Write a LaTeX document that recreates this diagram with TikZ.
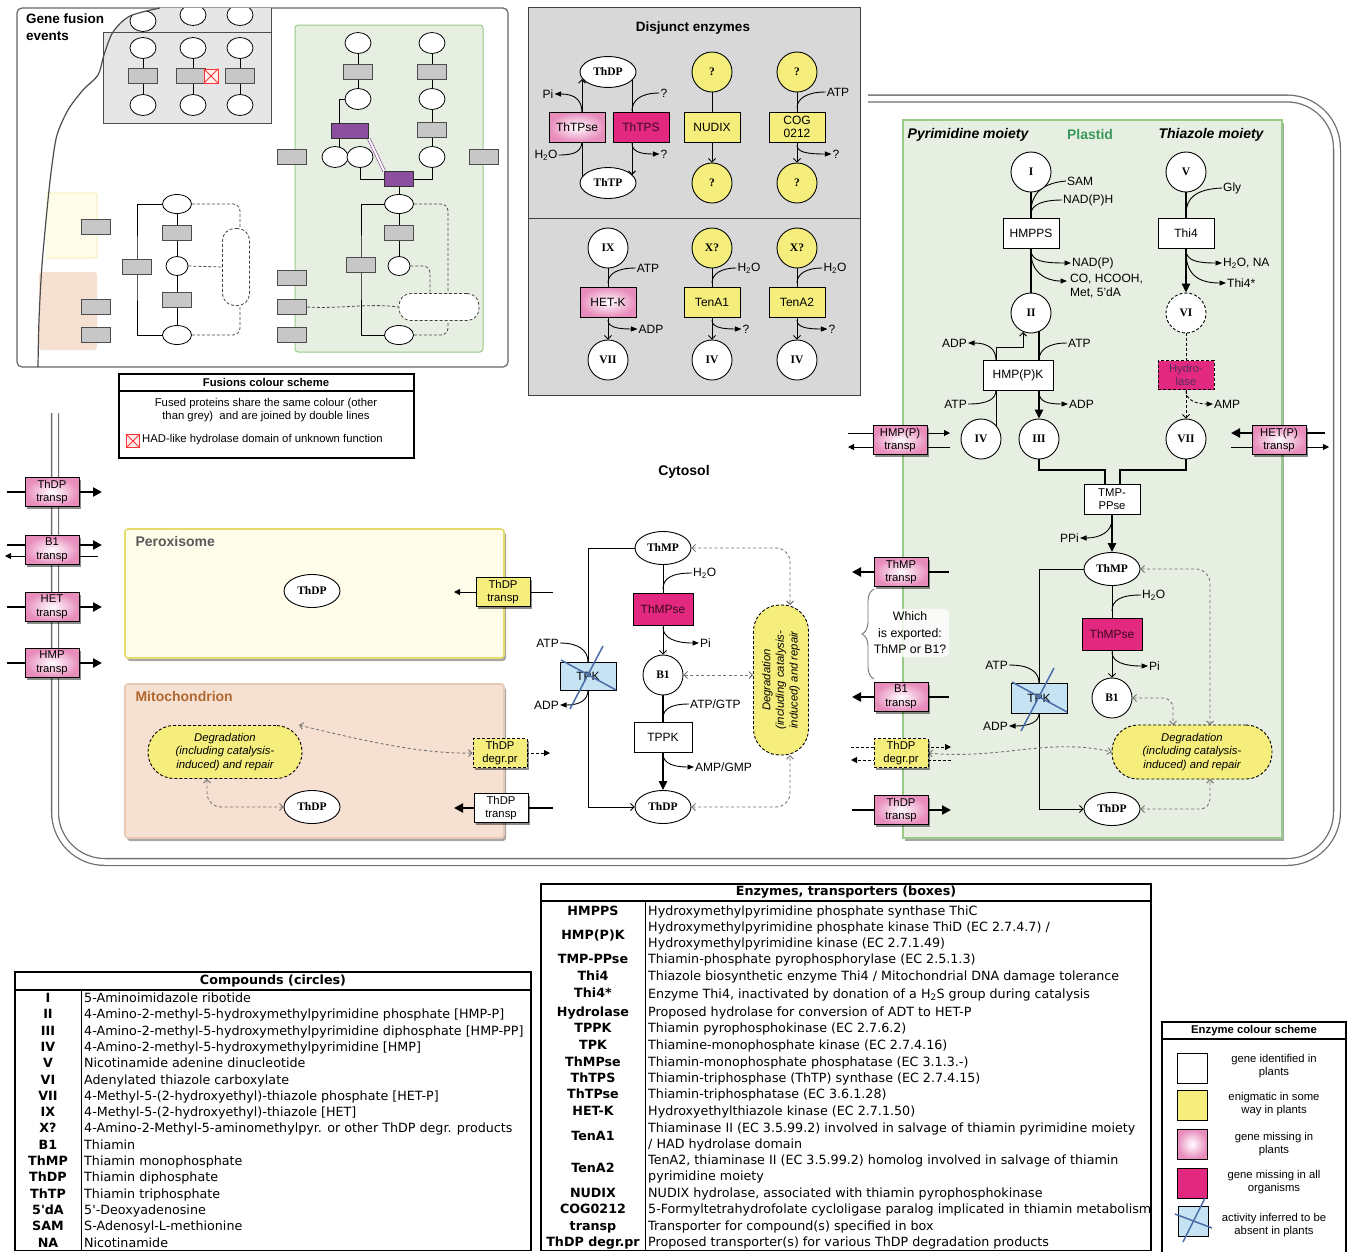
\documentclass[tikz,border=0pt]{standalone}
\usepackage{fontspec}
\setmainfont{Liberation Sans}
\newfontfamily\cmpfam{Liberation Serif}
\newfontfamily\tabfam{DejaVu Sans}
\usetikzlibrary{shapes.geometric,arrows.meta,shadows,calc,decorations.pathreplacing}
\pgfdeclarelayer{back}
\pgfdeclarelayer{bg}
\pgfsetlayers{back,bg,main}
\definecolor{pinkc}{HTML}{E88CBC}
\definecolor{magc}{HTML}{E2287F}
\definecolor{yelc}{HTML}{F5EE7C}
\definecolor{bluec}{HTML}{C6E3F3}
\definecolor{crossc}{HTML}{4A6DAA}
\definecolor{greyp}{HTML}{D8D8D8}
\definecolor{greym}{HTML}{E6E6E6}
\definecolor{plastf}{HTML}{E6EFE1}
\definecolor{plastd}{HTML}{98CB88}
\definecolor{plastt}{HTML}{3A9A5C}
\definecolor{peroxf}{HTML}{FFFDE9}
\definecolor{peroxd}{HTML}{E4DC6C}
\definecolor{mitof}{HTML}{F6E0D2}
\definecolor{mitod}{HTML}{E6C8B3}
\definecolor{mitot}{HTML}{B0682E}
\definecolor{purp}{HTML}{8C4E9E}
\definecolor{memb}{HTML}{707070}
\newcommand\ftLab{\fontsize{12}{13.5}\selectfont}
\newcommand\ftTitle{\bfseries\fontsize{14}{17}\selectfont}
\newcommand\ftCmp{\cmpfam\bfseries\fontsize{11.5}{12}\selectfont}
\newcommand\ftSm{\fontsize{11.3}{13.6}\selectfont}
\newcommand\ftTab{\tabfam\fontsize{12.7}{16.3}\selectfont}
\tikzset{
 lab/.style={font=\ftLab, inner sep=1pt},
 cmp/.style={circle, draw, line width=0.9pt, fill=white, minimum size=40pt, inner sep=0pt, font=\ftCmp},
 cmpe/.style={ellipse, draw, line width=0.9pt, fill=white, minimum width=56pt, minimum height=33pt, inner sep=0pt, font=\ftCmp},
 enz/.style={rectangle, draw, line width=0.9pt, fill=white, minimum width=56pt, minimum height=30pt, inner sep=1pt, font=\ftLab, align=center},
 enzy/.style={enz, fill=yelc},
 enzm/.style={enz, fill=magc, text=black!75!magc},
 enzp/.style={enz, inner color=white, outer color=pinkc},
 enzb/.style={enz, fill=bluec},
 trbase/.style={rectangle, draw, line width=0.9pt, minimum width=54pt, minimum height=29pt, inner sep=0pt, font=\ftSm, align=center, drop shadow={shadow xshift=2pt,shadow yshift=-2.5pt,opacity=0.45,fill=black}},
 trs/.style={trbase, inner color=white, outer color=pinkc},
 trsy/.style={trbase, fill=yelc},
 trsw/.style={trbase, fill=white},
 trsdy/.style={trbase, fill=yelc, dash pattern=on 3pt off 2pt},
 degbox/.style={rectangle, rounded corners=26pt, draw, line width=0.9pt, dash pattern=on 3pt off 2pt, fill=yelc, font=\itshape\ftSm, align=center, minimum width=160pt, minimum height=54pt, inner sep=0pt},
 thn/.style={line width=0.9pt},
 thk/.style={line width=2.4pt},
 sarr/.style={line width=0.9pt, -{Triangle[length=6.5pt,width=5pt]}},
 oarr/.style={line width=0.9pt, -{Straight Barb[length=3.5pt,width=7pt]}},
 karr/.style={line width=2.4pt, -{Triangle[length=9pt,width=8pt]}},
 tarr/.style={line width=2.2pt, -{Triangle[length=9pt,width=9pt]}},
 tnarr/.style={line width=1pt, -{Triangle[length=6pt,width=6pt]}},
 dga/.style={line width=0.9pt, draw=black!55, dash pattern=on 3pt off 2.5pt, {Straight Barb[length=3.5pt,width=7pt]}-{Straight Barb[length=3.5pt,width=7pt]}},
 dsh/.style={dash pattern=on 3pt off 2pt},
 mbox/.style={rectangle, draw=black!70, fill=black!22, line width=0.7pt, minimum width=29pt, minimum height=15pt, inner sep=0pt},
 pbox/.style={mbox, fill=purp, draw=black!80},
 mcirc/.style={ellipse, draw, fill=white, line width=0.8pt, minimum width=26pt, minimum height=21pt, inner sep=0pt},
 mell/.style={mcirc, minimum width=29pt, minimum height=19pt},
 mcs/.style={mcirc, minimum width=22pt, minimum height=19pt},
 mdash/.style={draw=black!70, line width=0.8pt, dash pattern=on 3pt off 2pt},
 mround/.style={rectangle, rounded corners=12pt, draw=black!75, line width=0.8pt, dash pattern=on 3pt off 2pt, fill=white, inner sep=0pt},
 hadbox/.style={rectangle, draw=red!80, fill=red!6, line width=0.8pt, minimum size=14pt, inner sep=0pt},
 tabl/.style={font={\ftTab\bfseries}, inner sep=0pt, anchor=base},
 tabr/.style={font=\ftTab, inner sep=0pt, anchor=base west, align=left},
 sw/.style={rectangle, draw, line width=0.9pt, minimum size=30pt, inner sep=0pt},
}
\newcommand\crossit[1]{\draw[crossc, line width=1.5pt] ($(#1.center)+(15,-30)$) -- ($(#1.center)+(-18,33)$); \draw[crossc, line width=1.5pt] ($(#1.center)+(-27,-16)$) -- ($(#1.center)+(28,14)$);}
\newcommand\trline[5]{\draw[#5] ($(#1.center)+(#3,#2)$) -- ($(#1.center)+(#4,#2)$);}
\begin{document}
\begin{tikzpicture}[x=1pt,y=-1pt]
\useasboundingbox (0,0) rectangle (1347,1251);
\begin{pgfonlayer}{back}
\fill[white] (0,0) rectangle (1347,1251);
% ===== gene fusion panel background
\draw[line width=1.2pt, draw=black!60, fill=white, rounded corners=5pt] (17,8) rectangle (508,367);
\fill[peroxf] (46,193) rectangle (97,258);
\draw[peroxd!60, line width=0.8pt, rounded corners=3pt] (46,193) -- (97,193) -- (97,258) -- (46,258);
\fill[mitof, rounded corners=3pt] (39,272) rectangle (97,350);
\fill[greym] plot[smooth] coordinates {(160,8) (130,16) (113,32)} -- (271,32) -- (271,8) -- cycle;
\fill[greym] (103,32) rectangle (271,123);
\draw[draw=plastd, fill=plastf, line width=1pt, rounded corners=3pt] (295,25) rectangle (483,352);
% ===== disjunct panel
\draw[fill=greyp, draw=black!75, line width=1pt] (528,7) rectangle (860,395);
\draw[black!75, line width=1pt] (528,218) -- (860,218);
% ===== membrane
\draw[line width=1.3pt, draw=memb, double=white, double distance=5.5pt, rounded corners=50pt] (55,413) -- (55,862) -- (1337,862) -- (1337,98.5) -- (868,98.5);
% ===== compartments
\draw[draw=plastd, fill=plastf, line width=1.6pt, drop shadow={shadow xshift=2pt,shadow yshift=-3pt,opacity=0.35,fill=black}] (903,120) rectangle (1282,838);
\draw[draw=peroxd, fill=peroxf, line width=1.6pt, rounded corners=3pt, drop shadow={shadow xshift=2pt,shadow yshift=-3pt,opacity=0.35,fill=black}] (125,529) rectangle (504,658);
\draw[draw=mitod, fill=mitof, line width=1.6pt, rounded corners=3pt, drop shadow={shadow xshift=2pt,shadow yshift=-3pt,opacity=0.35,fill=black}] (125,684) rectangle (504,838);
\end{pgfonlayer}

% ================= GENE FUSION PANEL =================
\node[anchor=north west, font={\bfseries\fontsize{13.5}{17}\selectfont}, align=left, inner sep=0pt] (gTitle) at (26,14) {Gene fusion\\events};
\begin{scope}
\clip plot[smooth] coordinates {(160,8) (130,16) (113,32)} -- (271,32) -- (271,8) -- cycle;
\node[mcirc] (gt0) at (143,21) {};
\node[mcirc] (gt1) at (193,15) {};
\node[mcirc] (gt2) at (240,15) {};
\end{scope}
\draw[black!70, line width=0.9pt] (103,32) -- (271,32);
\draw[black!70, line width=0.9pt] (103,32) -- (103,123) -- (271,123) -- (271,8);
\draw[black!70, line width=1.2pt] plot[smooth] coordinates {(160,8) (130,16) (113,32) (104,55) (98,75) (83,90) (68,110) (57,135) (52,165) (48,200) (42,265) (39,320) (38,367)};
\node[mcirc] (ga1) at (143,48) {};
\node[mcirc] (ga2) at (143,105) {};
\node[mcirc] (gb1) at (193,48) {};
\node[mcirc] (gb2) at (193,105) {};
\node[mcirc] (gc1) at (240,48) {};
\node[mcirc] (gc2) at (240,105) {};
\begin{pgfonlayer}{bg}
\draw[thn] (ga1) -- (ga2); \draw[thn] (gb1) -- (gb2); \draw[thn] (gc1) -- (gc2);
\end{pgfonlayer}
\node[mbox] (gaB) at (143,76) {};
\node[mbox] (gbB) at (191,76) {};
\node[mbox] (gcB) at (240,76) {};
\node[hadbox] (gHAD) at (211,76) {};
\draw[red!80, line width=0.8pt] (gHAD.north west) -- (gHAD.south east) (gHAD.north east) -- (gHAD.south west);
% plastid mini
\node[mcirc] (p1) at (358,43) {};
\node[mbox] (p2) at (358,72) {};
\node[mcirc] (p3) at (358,99) {};
\node[mcirc] (p4) at (432,43) {};
\node[mbox] (p5) at (432,72) {};
\node[mcirc] (p6) at (432,99) {};
\node[mbox] (p7) at (432,130) {};
\node[mcirc] (p8) at (432,157) {};
\node[pbox, minimum width=37pt] (p9) at (350,131) {};
\node[mcirc] (p10) at (335,157) {};
\node[mcirc] (p11) at (360,157) {};
\node[pbox] (p12) at (399,179) {};
\node[mell] (p13) at (399,204) {};
\node[mbox] (p14) at (399,233) {};
\node[mcs] (p15) at (399,266) {};
\node[mell] (p16) at (399,335) {};
\node[mbox] (p17) at (361,265) {};
\node[mround, minimum width=80pt, minimum height=27pt] (p18) at (439,307) {};
\node[mbox] (gx1) at (292,157) {};
\node[mbox] (gx2) at (484,157) {};
\node[mbox] (gx3) at (292,278) {};
\node[mbox] (gx4) at (292,307) {};
\node[mbox] (gx5) at (292,335) {};
\node[mbox] (gx6) at (96,227) {};
\node[mbox] (gx7) at (96,307) {};
\node[mbox] (gx8) at (96,335) {};
% cytosol mini
\node[mell] (c1) at (177,204) {};
\node[mbox] (c2) at (177,233) {};
\node[mcs] (c3) at (177,266) {};
\node[mbox] (c4) at (177,300) {};
\node[mell] (c5) at (177,335) {};
\node[mbox] (c6) at (137,267) {};
\node[mround, minimum width=27pt, minimum height=77pt] (c7) at (236,267) {};
\begin{pgfonlayer}{bg}
\draw[thn] (p1.center) -- (p3.center);
\draw[thn] (p4.center) -- (p8.center);
\draw[thn] (p3.west) -| (339,157);
\draw[thn] (p11.center) |- (p12.center);
\draw[thn] (p8.center) |- (p12.center);
\draw[thn] (p12.center) -- (p15.center);
\draw[thn] (p13.center) -| (p17.center) |- (p16.center);
\draw[mdash, rounded corners=7pt] (p13.east) -| (448,293.5);
\draw[mdash, rounded corners=7pt] (p15.east) -| (430,293.5);
\draw[mdash, rounded corners=7pt] (p16.east) -| (448,320.5);
\draw[mdash] (gx4.east) .. controls (340,309) and (370,303) .. (p18.west);
\draw[thn] (c1.center) -- (c5.center);
\draw[thn] (c1.center) -| (c6.center) |- (c5.center);
\draw[mdash, rounded corners=7pt] (c1.east) -| (240,228.5);
\draw[mdash] (c3.east) -- (c7.west);
\draw[mdash, rounded corners=7pt] (c5.east) -| (240,305.5);
\end{pgfonlayer}
\draw[purp, line width=0.7pt, double=white, double distance=2pt] (p9.south east) -- (p12.north west);

% ================= FUSIONS LEGEND =================
\draw[line width=1.2pt] (119,374) rectangle (414,458);
\draw[line width=1.2pt] (119,391) -- (414,391);
\node[font={\bfseries\fontsize{11.3}{13}\selectfont}] (fTitle) at (266,382) {Fusions colour scheme};
\node[font=\ftSm, align=center] (fText) at (266,410) {Fused proteins share the same colour (other\\than grey)\ \ and are joined by double lines};
\node[hadbox, minimum size=13pt] (fHAD) at (133,441) {};
\draw[red!80, line width=0.8pt] (fHAD.north west) -- (fHAD.south east) (fHAD.north east) -- (fHAD.south west);
\node[font=\ftSm, anchor=west, inner sep=0pt] (fHADt) at (142,440) {HAD-like hydrolase domain of unknown function};

% ================= DISJUNCT ENZYMES =================
\node[font={\bfseries\fontsize{13.5}{16}\selectfont}] (dTitle) at (693,28) {Disjunct enzymes};
\node[cmpe, minimum height=31pt] (dThDP) at (608,72) {ThDP};
\node[cmpe, minimum height=31pt] (dThTP) at (608,183) {ThTP};
\node[enzp] (dThTPse) at (577,127) {ThTPse};
\node[enzm] (dThTPS) at (641,127) {ThTPS};
\node[lab] (dPi) at (548,94) {Pi};
\node[lab] (dH2O) at (546,155) {H\textsubscript{2}O};
\node[lab] (dQ1) at (664,93) {?};
\node[lab] (dQ2) at (664,154) {?};
\begin{pgfonlayer}{bg}
\draw[oarr] (582,177) -- (582,79);
\draw[oarr] (632,80) -- (632,175);
\draw[sarr] (582,113) .. controls (582,100) and (575,94) .. (dPi.east);
\draw[thn] (dH2O.east) .. controls (576,155) and (582,151) .. (582,140);
\draw[thn] (dQ1.west) .. controls (641,93) and (632,100) .. (632,111);
\draw[sarr] (632,143) .. controls (632,152) and (641,154) .. (dQ2.west);
\end{pgfonlayer}
\node[cmp, fill=yelc] (dNq1) at (712,72) {?};
\node[enzy] (dNUDIX) at (712,127) {NUDIX};
\node[cmp, fill=yelc] (dNq2) at (712,183) {?};
\draw[thn] (dNq1) -- (dNUDIX);
\draw[oarr] (dNUDIX) -- (dNq2);
\node[cmp, fill=yelc] (dCq1) at (797,72) {?};
\node[enzy] (dCOG) at (797,127) {COG\\0212};
\node[cmp, fill=yelc] (dCq2) at (797,183) {?};
\node[lab] (dCATP) at (838,92) {ATP};
\node[lab] (dCq3) at (836,154) {?};
\draw[thn] (dCq1) -- (dCOG);
\draw[oarr] (dCOG) -- (dCq2);
\draw[thn] (dCATP.west) .. controls (806,92) and (797,99) .. (797,108);
\draw[sarr] (797,145) .. controls (797,152) and (806,154) .. (dCq3.west);
% row 2
\node[cmp] (dIX) at (608,248) {IX};
\node[enzp] (dHETK) at (608,302) {HET-K};
\node[cmp] (dVII) at (608,360) {VII};
\node[lab] (dATP2) at (648,268) {ATP};
\node[lab] (dADP2) at (651,329) {ADP};
\draw[thn] (dIX) -- (dHETK);
\draw[oarr] (dHETK) -- (dVII);
\draw[thn] (dATP2.west) .. controls (617,268) and (608,274) .. (608,283);
\draw[sarr] (608,320) .. controls (608,327) and (617,329) .. (dADP2.west);
\node[cmp, fill=yelc] (dX1) at (712,248) {X?};
\node[enzy] (dTenA1) at (712,302) {TenA1};
\node[cmp] (dIV1) at (712,360) {IV};
\node[lab] (dH2Ob) at (749,268) {H\textsubscript{2}O};
\node[lab] (dQ4) at (746,329) {?};
\draw[thn] (dX1) -- (dTenA1);
\draw[oarr] (dTenA1) -- (dIV1);
\draw[thn] (dH2Ob.west) .. controls (721,268) and (712,274) .. (712,283);
\draw[sarr] (712,320) .. controls (712,327) and (721,329) .. (dQ4.west);
\node[cmp, fill=yelc] (dX2) at (797,248) {X?};
\node[enzy] (dTenA2) at (797,302) {TenA2};
\node[cmp] (dIV2) at (797,360) {IV};
\node[lab] (dH2Oc) at (835,268) {H\textsubscript{2}O};
\node[lab] (dQ5) at (832,329) {?};
\draw[thn] (dX2) -- (dTenA2);
\draw[oarr] (dTenA2) -- (dIV2);
\draw[thn] (dH2Oc.west) .. controls (806,268) and (797,274) .. (797,283);
\draw[sarr] (797,320) .. controls (797,327) and (806,329) .. (dQ5.west);

% ================= PLASTID =================
\node[font={\bfseries\itshape\fontsize{14}{16}\selectfont}] (pPyr) at (968,135) {Pyrimidine moiety};
\node[font={\bfseries\fontsize{14}{16}\selectfont}, text=plastt] (pPlast) at (1090,134) {Plastid};
\node[font={\bfseries\itshape\fontsize{14}{16}\selectfont}] (pThz) at (1211,135) {Thiazole moiety};
\node[cmp] (pI) at (1031,172) {I};
\node[lab, anchor=west] (pSAM) at (1066,181) {SAM};
\node[lab, anchor=west] (pNADPH) at (1062,200) {NAD(P)H};
\node[enz] (pHMPPS) at (1031,233) {HMPPS};
\node[lab, anchor=west] (pNADP) at (1071,263) {NAD(P)};
\node[lab, anchor=north west, align=left] (pCO) at (1069,273) {CO, HCOOH,\\Met, 5'dA};
\node[cmp] (pII) at (1031,313) {II};
\node[enz, minimum width=70pt] (pHMPK) at (1018,375) {HMP(P)K};
\node[lab, anchor=east] (pADPl) at (968,343) {ADP};
\node[lab, anchor=west] (pATPr) at (1067,343) {ATP};
\node[lab, anchor=east] (pATPl) at (968,404) {ATP};
\node[lab, anchor=west] (pADPr) at (1068,404) {ADP};
\node[cmp] (pIV) at (981,439) {IV};
\node[cmp] (pIII) at (1039,439) {III};
\node[cmp] (pV) at (1186,172) {V};
\node[lab, anchor=west] (pGly) at (1222,188) {Gly};
\node[enz] (pThi4) at (1186,233) {Thi4};
\node[lab, anchor=west] (pH2ONA) at (1222,263) {H\textsubscript{2}O, NA};
\node[lab, anchor=west] (pThi4s) at (1226,283) {Thi4*};
\node[cmp, dash pattern=on 3pt off 2pt] (pVI) at (1186,313) {VI};
\node[enzm, dash pattern=on 3pt off 2pt, minimum height=29pt, font=\ftSm, text=purp!60!black] (pHyd) at (1186,375) {Hydro-\\lase};
\node[lab, anchor=west] (pAMP) at (1213,404) {AMP};
\node[cmp] (pVII) at (1186,439) {VII};
\node[enz, font=\ftSm] (pTMP) at (1112,499) {TMP-\\PPse};
\node[lab, anchor=east] (pPPi) at (1080,538) {PPi};
\node[cmpe] (pThMP) at (1112,569) {ThMP};
\node[lab, anchor=west] (pH2O) at (1141,595) {H\textsubscript{2}O};
\node[enzm, minimum width=60pt, minimum height=32pt] (pThMPse) at (1112,634) {ThMPse};
\node[lab, anchor=west] (pPi) at (1148,666) {Pi};
\node[cmp] (pB1) at (1112,698) {B1};
\node[enzb] (pTPK) at (1039,698) {TPK};
\node[lab, anchor=east] (pATP) at (1009,665) {ATP};
\node[lab, anchor=east] (pADP) at (1009,726) {ADP};
\node[cmpe] (pThDP) at (1112,809) {ThDP};
\node[degbox] (pDeg) at (1192,752) {Degradation\\(including catalysis-\\induced) and repair};
\node[trs] (pTrHMP) at (900,440) {HMP(P)\\transp};
\node[trs] (pTrHET) at (1279,440) {HET(P)\\transp};
\node[trs] (pTrThMP) at (901,572) {ThMP\\transp};
\node[trs] (pTrB1) at (901,697) {B1\\transp};
\node[trsdy] (pTrDg) at (901,753) {ThDP\\degr.pr};
\node[trs] (pTrThDP) at (901,810) {ThDP\\transp};
\node[font={\fontsize{12.3}{16.5}\selectfont}, align=center, fill=white, fill opacity=0.8, text opacity=1, rounded corners=6pt, inner sep=3pt] (pWhich) at (910,633) {Which\\is exported:\\ThMP or B1?};
\begin{pgfonlayer}{bg}
\draw[thk] (pI.south) -- (pII.north);
\draw[thn] (pSAM.west) .. controls (1042,183) and (1031,194) .. (1031,212);
\draw[thn] (pNADPH.west) .. controls (1042,200) and (1031,205) .. (1031,214);
\draw[sarr] (1031,250) .. controls (1031,261) and (1043,263) .. (pNADP.west);
\draw[sarr] (1031,252) .. controls (1031,272) and (1045,281) .. ($(pCO.north west)+(-2,8)$);
\draw[karr] (1039,331) -- (pIII.north);
\draw[thn] (pATPr.west) .. controls (1048,343) and (1039,350) .. (1039,360);
\draw[sarr] (1039,392) .. controls (1039,402) and (1048,404) .. (pADPr.west);
\draw[oarr] (996,426) -- (996,347) -- (1023,347) -- (1023,332);
\draw[sarr] (996,360) .. controls (996,349) and (988,343) .. (pADPl.east);
\draw[thn] (pATPl.east) .. controls (988,404) and (996,399) .. (996,390);
\draw[thk] (pV.south) -- (pThi4.north);
\draw[karr] (pThi4.south) -- (pVI.north);
\draw[thn] (pGly.west) .. controls (1196,189) and (1186,198) .. (1186,214);
\draw[sarr] (1186,250) .. controls (1186,261) and (1198,263) .. (pH2ONA.west);
\draw[sarr] (1186,252) .. controls (1186,276) and (1200,283) .. (pThi4s.west);
\draw[thn, dsh] (pVI.south) -- (pHyd.north);
\draw[oarr, dsh] (pHyd.south) -- (pVII.north);
\draw[sarr, dsh] (1186,391) .. controls (1186,400) and (1196,404) .. (pAMP.west);
\draw[thk] (pIII.south) |- (1105,470) -- (1105,484);
\draw[thk] (pVII.south) |- (1120,470) -- (1120,484);
\draw[karr] (pTMP.south) -- (pThMP.north);
\draw[sarr] (1112,519) .. controls (1112,532) and (1100,538) .. (pPPi.east);
\draw[thn] (pThMP.south) -- (pThMPse.north);
\draw[thn] (pH2O.west) .. controls (1121,595) and (1112,600) .. (1112,611);
\draw[sarr] (1112,652) .. controls (1112,662) and (1124,666) .. (pPi.west);
\draw[oarr] (pThMPse.south) -- (pB1.north);
\draw[oarr] (pThMP.west) -| (1039,809) -- (pThDP.west);
\draw[thn] (pATP.east) .. controls (1030,665) and (1039,672) .. (1039,683);
\draw[sarr] (1039,713) .. controls (1039,722) and (1030,726) .. (pADP.east);
\draw[dga, rounded corners=14pt] (pThMP.east) -- (1210,569) -- (1210,725);
\draw[dga, rounded corners=10pt] (pB1.east) -- (1173,698) -- (1173,725);
\draw[dga, rounded corners=10pt] (pThDP.east) -- (1210,809) -- (1210,779);
\draw[dga] (pTrDg.east) .. controls (1000,760) and (1050,737) .. (pDeg.west);
% transporter lines
\trline{pTrHMP}{-7}{-52}{50}{tnarr}
\trline{pTrHMP}{7}{50}{-52}{tnarr}
\trline{pTrHET}{-7}{46}{-48}{tarr}
\trline{pTrHET}{7}{-48}{50}{tnarr}
\trline{pTrThMP}{0}{48}{-49}{tarr}
\trline{pTrB1}{0}{48}{-49}{tarr}
\trline{pTrDg}{-6}{-50}{50}{tnarr,dsh}
\trline{pTrDg}{7}{50}{-50}{tnarr,dsh}
\trline{pTrThDP}{0}{-49}{50}{tarr}
\end{pgfonlayer}
\crossit{pTPK}
\draw[black!55, line width=0.9pt, decorate, decoration={brace, amplitude=12pt}] (874,679) -- (874,589);

% ================= CYTOSOL =================
\node[font={\bfseries\fontsize{14}{16}\selectfont}] (cTitle) at (684,472) {Cytosol};
\node[cmpe] (cThMP) at (663,548) {ThMP};
\node[lab, anchor=west] (cH2O) at (692,573) {H\textsubscript{2}O};
\node[enzm, minimum width=60pt, minimum height=32pt] (cThMPse) at (663,609) {ThMPse};
\node[lab, anchor=west] (cPi) at (699,643) {Pi};
\node[cmp] (cB1) at (663,675) {B1};
\node[lab, anchor=west] (cATPGTP) at (689,704) {ATP/GTP};
\node[enz, minimum width=58pt] (cTPPK) at (663,737) {TPPK};
\node[lab, anchor=west] (cAMP) at (694,767) {AMP/GMP};
\node[cmpe] (cThDP) at (663,807) {ThDP};
\node[enzb, minimum height=28pt] (cTPK) at (588,676) {TPK};
\node[lab, anchor=east] (cATP) at (560,643) {ATP};
\node[lab, anchor=east] (cADP) at (560,705) {ADP};
\node[degbox, rotate=90, minimum width=150pt, minimum height=55pt] (cDeg) at (781,680) {Degradation\\(including catalysis-\\induced) and repair};
\begin{pgfonlayer}{bg}
\draw[thn] (cThMP.south) -- (cThMPse.north);
\draw[thn] (cH2O.west) .. controls (672,573) and (663,578) .. (663,589);
\draw[sarr] (663,627) .. controls (663,638) and (675,643) .. (cPi.west);
\draw[oarr] (cThMPse.south) -- (cB1.north);
\draw[thk] (cB1.south) -- (cTPPK.north);
\draw[thn] (cATPGTP.west) .. controls (671,704) and (663,709) .. (663,718);
\draw[karr] (cTPPK.south) -- (cThDP.north);
\draw[sarr] (663,754) .. controls (663,764) and (675,767) .. (cAMP.west);
\draw[oarr] (cThMP.west) -| (588,807) -- (cThDP.west);
\draw[thn] (cATP.east) .. controls (578,643) and (588,650) .. (588,662);
\draw[sarr] (588,690) .. controls (588,700) and (580,705) .. (cADP.east);
\draw[dga, rounded corners=14pt] (cThMP.east) -- (790,548) -- (790,605);
\draw[dga] (cB1.east) -- (753,675);
\draw[dga, rounded corners=14pt] (cThDP.east) -- (790,807) -- (790,755);
\end{pgfonlayer}
\crossit{cTPK}

% ================= PEROXISOME / MITOCHONDRION =================
\node[font={\bfseries\fontsize{14}{16}\selectfont}, text=black!65, anchor=west] (xTitle) at (132,541) {Peroxisome};
\node[cmpe] (xThDP) at (312,591) {ThDP};
\node[trsy] (xTr) at (503,592) {ThDP\\transp};
\node[font={\bfseries\fontsize{14}{16}\selectfont}, text=mitot, anchor=west] (mTitle) at (132,696) {Mitochondrion};
\node[degbox, minimum width=154pt, minimum height=53pt] (mDeg) at (225,752) {Degradation\\(including catalysis-\\induced) and repair};
\node[cmpe] (mThDP) at (312,807) {ThDP};
\node[trsdy] (mTrDg) at (500,753) {ThDP\\degr.pr};
\node[trsw] (mTrT) at (501,808) {ThDP\\transp};
\begin{pgfonlayer}{bg}
\trline{xTr}{0}{50}{-49}{tnarr}
\trline{mTrDg}{0}{26}{50}{tnarr,dsh}
\trline{mTrT}{0}{52}{-47}{tarr}
\draw[dga] (mDeg.20) .. controls (360,740) and (420,754) .. (mTrDg.west);
\draw[dga, rounded corners=14pt] ($(mDeg.south)+(-18,0)$) -- ($(mDeg.south)+(-18,28)$) -- (mThDP.west);
\end{pgfonlayer}

% ================= MEMBRANE TRANSPORTERS (left) =================
\node[trs] (lTrThDP) at (52,492) {ThDP\\transp};
\node[trs] (lTrB1) at (52,550) {B1\\transp};
\node[trs] (lTrHET) at (52,607) {HET\\transp};
\node[trs] (lTrHMP) at (52,663) {HMP\\transp};
\begin{pgfonlayer}{bg}
\trline{lTrThDP}{0}{-45}{50}{tarr}
\trline{lTrB1}{-5}{-45}{50}{tarr}
\trline{lTrB1}{6}{46}{-47}{tnarr}
\trline{lTrHET}{0}{-45}{50}{tarr}
\trline{lTrHMP}{0}{-45}{50}{tarr}
\end{pgfonlayer}

% ================= COMPOUNDS TABLE =================
\draw[line width=1.2pt] (15,972) rectangle (531,1250.5);
\node[font={\ftTab\bfseries}] (cmpH) at (273,981) {Compounds (circles)};
\draw[line width=1.8pt] (15,990) -- (531,990);
\draw[line width=0.9pt] (81,990) -- (81,1251);
\node[tabl] (t1a) at (48,1002.5) {I};
\node[tabr] (t1b) at (84,1002.5) {5-Aminoimidazole ribotide};
\node[tabl] (t2a) at (48,1018.8) {II};
\node[tabr] (t2b) at (84,1018.8) {4-Amino-2-methyl-5-hydroxymethylpyrimidine phosphate [HMP-P]};
\node[tabl] (t3a) at (48,1035.1) {III};
\node[tabr] (t3b) at (84,1035.1) {4-Amino-2-methyl-5-hydroxymethylpyrimidine diphosphate [HMP-PP]};
\node[tabl] (t4a) at (48,1051.4) {IV};
\node[tabr] (t4b) at (84,1051.4) {4-Amino-2-methyl-5-hydroxymethylpyrimidine [HMP]};
\node[tabl] (t5a) at (48,1067.7) {V};
\node[tabr] (t5b) at (84,1067.7) {Nicotinamide adenine dinucleotide};
\node[tabl] (t6a) at (48,1084) {VI};
\node[tabr] (t6b) at (84,1084) {Adenylated thiazole carboxylate};
\node[tabl] (t7a) at (48,1100.3) {VII};
\node[tabr] (t7b) at (84,1100.3) {4-Methyl-5-(2-hydroxyethyl)-thiazole phosphate [HET-P]};
\node[tabl] (t8a) at (48,1116.6) {IX};
\node[tabr] (t8b) at (84,1116.6) {4-Methyl-5-(2-hydroxyethyl)-thiazole [HET]};
\node[tabl] (t9a) at (48,1132.9) {X?};
\node[tabr] (t9b) at (84,1132.9) {4-Amino-2-Methyl-5-aminomethylpyr. or other ThDP degr. products};
\node[tabl] (t10a) at (48,1149.2) {B1};
\node[tabr] (t10b) at (84,1149.2) {Thiamin};
\node[tabl] (t11a) at (48,1165.5) {ThMP};
\node[tabr] (t11b) at (84,1165.5) {Thiamin monophosphate};
\node[tabl] (t12a) at (48,1181.8) {ThDP};
\node[tabr] (t12b) at (84,1181.8) {Thiamin diphosphate};
\node[tabl] (t13a) at (48,1198.1) {ThTP};
\node[tabr] (t13b) at (84,1198.1) {Thiamin triphosphate};
\node[tabl] (t14a) at (48,1214.4) {5'dA};
\node[tabr] (t14b) at (84,1214.4) {5'-Deoxyadenosine};
\node[tabl] (t15a) at (48,1230.7) {SAM};
\node[tabr] (t15b) at (84,1230.7) {S-Adenosyl-L-methionine};
\node[tabl] (t16a) at (48,1247) {NA};
\node[tabr] (t16b) at (84,1247) {Nicotinamide};

% ================= ENZYMES TABLE =================
\draw[line width=1.2pt] (541,884) rectangle (1151,1250.5);
\node[font={\ftTab\bfseries}] (enzH) at (846,892) {Enzymes, transporters (boxes)};
\draw[line width=1.8pt] (541,901) -- (1151,901);
\draw[line width=0.9pt] (645,901) -- (645,1251);
\node[tabl] (e1a) at (593,915.5) {HMPPS};
\node[tabr] (e1b) at (648,915.5) {Hydroxymethylpyrimidine phosphate synthase ThiC};
\node[tabl] (e2a) at (593,939.5) {HMP(P)K};
\node[tabr] (e2b) at (648,947.5) {Hydroxymethylpyrimidine phosphate kinase ThiD (EC 2.7.4.7) /\\Hydroxymethylpyrimidine kinase (EC 2.7.1.49)};
\node[tabl] (e3a) at (593,963.5) {TMP-PPse};
\node[tabr] (e3b) at (648,963.5) {Thiamin-phosphate pyrophosphorylase (EC 2.5.1.3)};
\node[tabl] (e4a) at (593,980.5) {Thi4};
\node[tabr] (e4b) at (648,980.5) {Thiazole biosynthetic enzyme Thi4 / Mitochondrial DNA damage tolerance};
\node[tabl] (e5a) at (593,997.5) {Thi4*};
\node[tabr] (e5b) at (648,998.5) {Enzyme Thi4, inactivated by donation of a H\textsubscript{2}S group during catalysis};
\node[tabl] (e6a) at (593,1016.5) {Hydrolase};
\node[tabr] (e6b) at (648,1016.5) {Proposed hydrolase for conversion of ADT to HET-P};
\node[tabl] (e7a) at (593,1032.5) {TPPK};
\node[tabr] (e7b) at (648,1032.5) {Thiamin pyrophosphokinase (EC 2.7.6.2)};
\node[tabl] (e8a) at (593,1049.5) {TPK};
\node[tabr] (e8b) at (648,1049.5) {Thiamine-monophosphate kinase (EC 2.7.4.16)};
\node[tabl] (e9a) at (593,1066) {ThMPse};
\node[tabr] (e9b) at (648,1066) {Thiamin-monophosphate phosphatase (EC 3.1.3.-)};
\node[tabl] (e10a) at (593,1082.5) {ThTPS};
\node[tabr] (e10b) at (648,1082.5) {Thiamin-triphosphase (ThTP) synthase (EC 2.7.4.15)};
\node[tabl] (e11a) at (593,1098.5) {ThTPse};
\node[tabr] (e11b) at (648,1098.5) {Thiamin-triphosphatase (EC 3.6.1.28)};
\node[tabl] (e12a) at (593,1115.5) {HET-K};
\node[tabr] (e12b) at (648,1115.5) {Hydroxyethylthiazole kinase (EC 2.7.1.50)};
\node[tabl] (e13a) at (593,1140.5) {TenA1};
\node[tabr] (e13b) at (648,1148.5) {Thiaminase II (EC 3.5.99.2) involved in salvage of thiamin pyrimidine moiety\\/ HAD hydrolase domain};
\node[tabl] (e14a) at (593,1172.5) {TenA2};
\node[tabr] (e14b) at (648,1180.5) {TenA2, thiaminase II (EC 3.5.99.2) homolog involved in salvage of thiamin\\pyrimidine moiety};
\node[tabl] (e15a) at (593,1197.5) {NUDIX};
\node[tabr] (e15b) at (648,1197.5) {NUDIX hydrolase, associated with thiamin pyrophosphokinase};
\node[tabl] (e16a) at (593,1213.5) {COG0212};
\node[tabr] (e16b) at (648,1213.5) {5-Formyltetrahydrofolate cycloligase paralog implicated in thiamin metabolism};
\node[tabl] (e17a) at (593,1230.5) {transp};
\node[tabr] (e17b) at (648,1230.5) {Transporter for compound(s) specified in box};
\node[tabl] (e18a) at (593,1246.5) {ThDP degr.pr};
\node[tabr] (e18b) at (648,1246.5) {Proposed transporter(s) for various ThDP degradation products};

% ================= ENZYME COLOUR SCHEME =================
\draw[line width=1.2pt] (1162,1022) rectangle (1346,1262);
\node[font={\bfseries\fontsize{11.3}{13}\selectfont}] (ecH) at (1254,1031) {Enzyme colour scheme};
\draw[line width=1.2pt] (1162,1039) -- (1346,1039);
\node[sw, fill=white] (ec1) at (1192,1068) {};
\node[font=\ftSm, align=center] (ec1t) at (1274,1066) {gene identified in\\plants};
\node[sw, fill=yelc] (ec2) at (1192,1105) {};
\node[font=\ftSm, align=center] (ec2t) at (1274,1104) {enigmatic in some\\way in plants};
\node[sw, inner color=white, outer color=pinkc] (ec3) at (1192,1144) {};
\node[font=\ftSm, align=center] (ec3t) at (1274,1144) {gene missing in\\plants};
\node[sw, fill=magc] (ec4) at (1192,1183) {};
\node[font=\ftSm, align=center] (ec4t) at (1274,1182) {gene missing in all\\organisms};
\node[sw, fill=bluec] (ec5) at (1193,1221) {};
\node[font=\ftSm, align=center] (ec5t) at (1274,1225) {activity inferred to be\\absent in plants};
\draw[crossc, line width=1.5pt] ($(ec5.center)+(12,-23)$) -- ($(ec5.center)+(-10,21)$);
\draw[crossc, line width=1.5pt] ($(ec5.center)+(-18,-7)$) -- ($(ec5.center)+(19,7)$);
\end{tikzpicture}
\end{document}
